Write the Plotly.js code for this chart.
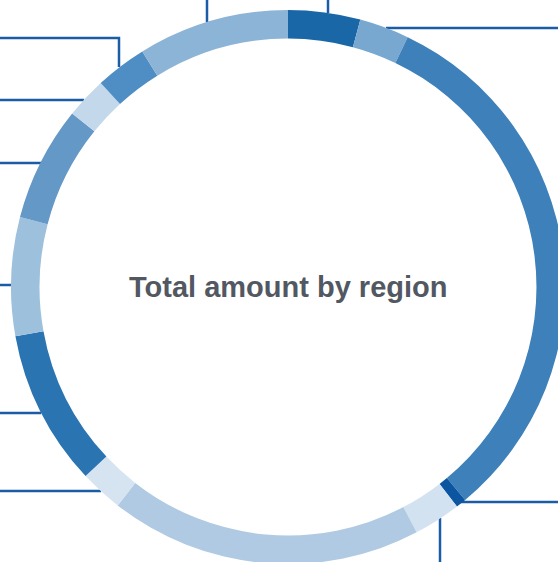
<!DOCTYPE html>
<html>
<head>
<meta charset="utf-8">
<script src="https://cdn.plot.ly/plotly-3.0.1.min.js"></script>
<style>
  html, body { margin: 0; padding: 0; overflow: hidden; background: #fff; }
  #chart { width: 576px; height: 574px; }
</style>
</head>
<body>
<div id="chart"></div>
<script>
// regions, clockwise from 12 o'clock (names are cut off in the picture)
var regions = ["Region A", "Region B", "Region C", "Region D", "Region E", "Region F", "Region G",
               "Region H", "Region I", "Region J", "Region K", "Region L", "Region M"];
// share of total amount, %
var amounts = [4.2, 2.9, 31.8, 0.6, 2.75, 18.2, 2.5, 9.1, 6.9, 6.7, 2.4, 3.0, 8.8];
var sliceColors = ["#1a67a8", "#78a8d0", "#3e80ba", "#0c55a0", "#d3e2f0", "#afcae2", "#d6e4f1",
                   "#2b74b2", "#9dc0dd", "#6398c7", "#c4d8ec", "#4f8ec4", "#8cb4d6"];

var W = 576, H = 574, M = 10;
// pixel -> paper helpers for the leader lines
function px(x) { return (x - M) / (W - 2 * M); }
function py(y) { return 1 - (y - M) / (H - 2 * M); }

// leader lines running out to labels that sit outside the visible area
var leaders = [
  [[207, 0], [207, 22]],
  [[328, 0], [328, 13]],
  [[386, 28], [560, 28]],
  [[-2, 38], [119, 38], [119, 67]],
  [[-2, 100], [84, 100]],
  [[-2, 163], [41, 163]],
  [[-2, 285], [11, 285]],
  [[-2, 413], [41, 413]],
  [[-2, 491], [101, 491]],
  [[458, 502], [560, 502]],
  [[440, 518], [440, 566]]
];

var shapes = leaders.map(function (pts) {
  var d = pts.map(function (p, i) {
    return (i === 0 ? "M" : "L") + px(p[0]) + "," + py(p[1]);
  }).join(" ");
  return {
    type: "path", xref: "paper", yref: "paper", path: d, layer: "below",
    line: { color: "#1a5ca6", width: 2.5 }
  };
});

var trace = {
  type: "pie",
  labels: regions,
  values: amounts,
  hole: 0.897,
  sort: false,
  direction: "clockwise",
  rotation: 0,
  textinfo: "none",
  hoverinfo: "label+percent",
  marker: { colors: sliceColors, line: { width: 0 } },
  showlegend: false
};

var layout = {
  width: W,
  height: H,
  margin: { l: M, r: M, t: M, b: M },
  paper_bgcolor: "#fff",
  showlegend: false,
  shapes: shapes,
  annotations: [{
    text: "<b>Total amount by region</b>",
    x: 0.5, y: 0.5, xref: "paper", yref: "paper",
    xanchor: "center", yanchor: "middle", showarrow: false,
    font: { family: "Liberation Sans, Arial, sans-serif", size: 29, color: "#525861" }
  }]
};

Plotly.newPlot("chart", [trace], layout, { staticPlot: true });
</script>
</body>
</html>
